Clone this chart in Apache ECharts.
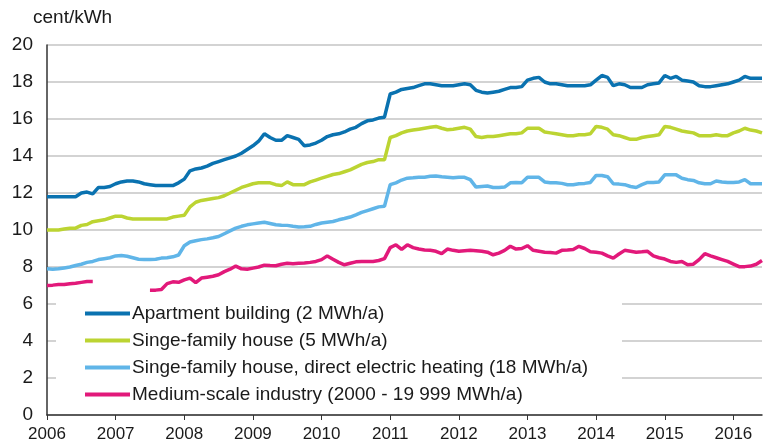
<!DOCTYPE html>
<html>
<head>
<meta charset="utf-8">
<script src="https://cdn.jsdelivr.net/npm/echarts@6/dist/echarts.min.js"></script>
<style>html,body{margin:0;padding:0;background:#fff}#c{width:763px;height:444px}</style>
</head>
<body>
<div id="c"></div>
<script>
// Monthly categories Jan 2006 .. Jun 2016
const months = [];
for (let y = 2006; y <= 2016; y++) {
  for (let m = 1; m <= 12; m++) {
    if (y === 2016 && m > 6) break;
    months.push(y + '-' + (m < 10 ? '0' + m : m));
  }
}
const yTicks = [0, 2, 4, 6, 8, 10, 12, 14, 16, 18, 20];
const seriesNames = [
  'Apartment building (2 MWh/a)',
  'Singe-family house (5 MWh/a)',
  'Singe-family house, direct electric heating (18 MWh/a)',
  'Medium-scale industry (2000 - 19 999 MWh/a)'
];
const apartment = [
11.8,11.8,11.8,11.8,11.8,11.8,12.0,12.05,11.95,12.3,12.3,12.35,
12.5,12.6,12.65,12.65,12.6,12.5,12.45,12.4,12.4,12.4,12.4,12.55,
12.75,13.2,13.3,13.35,13.45,13.6,13.7,13.8,13.9,14.0,14.15,14.35,
14.55,14.8,15.2,15.0,14.85,14.85,15.1,15.0,14.9,14.55,14.6,14.7,
14.85,15.05,15.15,15.2,15.3,15.45,15.55,15.75,15.9,15.95,16.05,16.1,
17.35,17.45,17.6,17.65,17.7,17.8,17.9,17.9,17.85,17.8,17.8,17.8,
17.85,17.9,17.85,17.55,17.45,17.4,17.45,17.5,17.6,17.7,17.7,17.75,
18.1,18.2,18.25,18.0,17.9,17.9,17.85,17.8,17.8,17.8,17.8,17.85,
18.1,18.35,18.25,17.8,17.9,17.85,17.7,17.7,17.7,17.85,17.9,17.95,
18.35,18.2,18.3,18.1,18.05,18.0,17.8,17.75,17.75,17.8,17.85,17.9,
18.0,18.1,18.3,18.2,18.2,18.2
];
const house = [
10.0,10.0,10.0,10.05,10.1,10.1,10.25,10.3,10.45,10.5,10.55,10.65,
10.75,10.75,10.65,10.6,10.6,10.6,10.6,10.6,10.6,10.6,10.7,10.75,
10.8,11.25,11.5,11.6,11.65,11.7,11.75,11.85,12.0,12.15,12.3,12.4,
12.5,12.55,12.55,12.55,12.45,12.4,12.6,12.45,12.45,12.45,12.6,12.7,
12.8,12.9,13.0,13.05,13.15,13.25,13.4,13.55,13.65,13.7,13.8,13.8,
15.0,15.1,15.25,15.35,15.4,15.45,15.5,15.55,15.6,15.5,15.42,15.45,
15.5,15.55,15.45,15.05,15.0,15.05,15.05,15.1,15.15,15.2,15.2,15.25,
15.5,15.5,15.5,15.3,15.25,15.2,15.15,15.1,15.1,15.15,15.15,15.2,
15.6,15.55,15.45,15.15,15.1,15.0,14.9,14.9,15.0,15.05,15.1,15.15,
15.6,15.55,15.45,15.35,15.3,15.25,15.1,15.1,15.1,15.15,15.1,15.1,
15.25,15.35,15.5,15.4,15.35,15.25
];
const heating = [
7.9,7.88,7.9,7.95,8.0,8.08,8.15,8.25,8.3,8.4,8.45,8.5,
8.6,8.62,8.58,8.5,8.42,8.4,8.4,8.42,8.48,8.5,8.55,8.65,
9.15,9.35,9.42,9.48,9.52,9.58,9.65,9.8,9.95,10.1,10.2,10.28,
10.33,10.38,10.42,10.35,10.28,10.26,10.25,10.2,10.16,10.17,10.2,10.3,
10.38,10.42,10.46,10.55,10.62,10.7,10.82,10.95,11.05,11.15,11.25,11.28,
12.45,12.55,12.7,12.8,12.82,12.85,12.85,12.9,12.92,12.88,12.85,12.82,
12.85,12.85,12.72,12.32,12.35,12.38,12.3,12.3,12.32,12.55,12.57,12.55,
12.85,12.85,12.85,12.6,12.55,12.55,12.52,12.45,12.45,12.5,12.52,12.57,
12.95,12.95,12.88,12.5,12.48,12.45,12.35,12.3,12.45,12.57,12.57,12.6,
12.98,12.99,12.98,12.8,12.72,12.68,12.55,12.5,12.5,12.65,12.6,12.57,
12.57,12.6,12.72,12.5,12.5,12.5
];
const industry = [
7.0,7.02,7.05,7.05,7.1,7.12,7.17,7.22,7.22,null,null,null,
null,null,null,null,null,null,6.75,6.75,6.78,7.1,7.2,7.17,
7.3,7.4,7.15,7.4,7.45,7.5,7.58,7.75,7.88,8.05,7.9,7.88,
7.94,8.0,8.1,8.08,8.07,8.15,8.2,8.18,8.2,8.22,8.25,8.3,
8.4,8.6,8.42,8.25,8.12,8.2,8.28,8.3,8.3,8.3,8.35,8.45,
9.05,9.2,8.95,9.2,9.05,8.97,8.92,8.9,8.85,8.72,8.97,8.9,
8.85,8.88,8.9,8.88,8.85,8.8,8.66,8.75,8.9,9.12,8.97,9.0,
9.15,8.9,8.85,8.8,8.78,8.75,8.9,8.92,8.95,9.12,9.0,8.82,
8.8,8.75,8.6,8.48,8.7,8.9,8.85,8.8,8.82,8.85,8.6,8.5,
8.43,8.3,8.25,8.3,8.12,8.15,8.4,8.72,8.6,8.5,8.4,8.3,
8.16,8.02,8.02,8.05,8.15,8.35
];
const colors = ['#0a72b0', '#bcd432', '#60b5e8', '#e2197a'];
const dataSets = [apartment, house, heating, industry];

const chart = echarts.init(document.getElementById('c'), null, {renderer: 'canvas'});
const FONT = 'Liberation Sans, Arial, sans-serif';
const yearTick = function (idx) { return idx % 12 === 0; };

chart.setOption({
  animation: false,
  color: colors,
  grid: {left: 47, right: 1, top: 45, bottom: 29, containLabel: false},
  xAxis: {
    type: 'category',
    data: months,
    boundaryGap: false,
    axisLine: {lineStyle: {color: '#333', width: 1.5}},
    axisTick: {show: true, interval: yearTick, length: 5, lineStyle: {color: '#333'}},
    axisLabel: {interval: yearTick, formatter: v => v.slice(0, 4), color: '#1a1a1a', fontSize: 17, fontFamily: FONT, margin: 11},
    splitLine: {show: false}
  },
  yAxis: {
    type: 'value',
    min: yTicks[0], max: yTicks[yTicks.length - 1], interval: 2,
    axisLine: {show: true, lineStyle: {color: '#333', width: 1.5}},
    axisTick: {show: false},
    axisLabel: {color: '#1a1a1a', fontSize: 19, fontFamily: FONT, margin: 14},
    splitLine: {lineStyle: {color: '#c4c4c4', width: 1.5}}
  },
  graphic: [
    {type: 'rect', z: 3, silent: true, shape: {x: 56, y: 293, width: 566, height: 120}, style: {fill: '#fff'}},
    {type: 'text', z: 5, left: 33, top: 8, style: {text: 'cent/kWh', fill: '#1a1a1a', font: '19px ' + FONT}}
  ],
  legend: {
    orient: 'vertical',
    left: 85, top: 304,
    padding: 0,
    itemGap: 8,
    itemWidth: 45, itemHeight: 4,
    icon: 'rect',
    z: 6,
    textStyle: {fontSize: 19, fontFamily: FONT, color: '#1a1a1a', padding: [0, 0, 0, -3]},
    data: seriesNames
  },
  series: seriesNames.map((n, i) => ({
    name: n,
    type: 'line',
    data: dataSets[i],
    symbol: 'none',
    connectNulls: false,
    z: 2,
    lineStyle: {width: 3.5, color: colors[i]},
    itemStyle: {color: colors[i]}
  }))
});
</script>
</body>
</html>
